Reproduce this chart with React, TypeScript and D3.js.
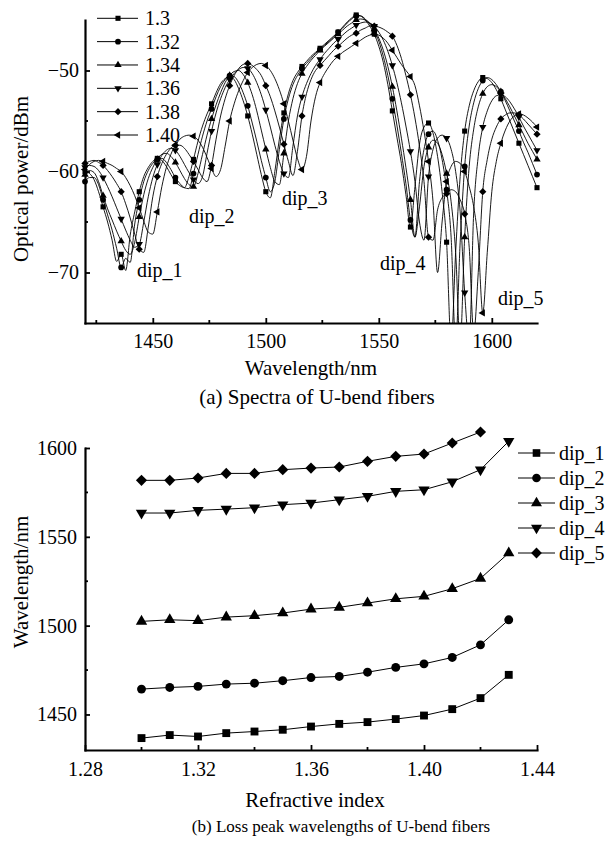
import React, { useEffect, useRef } from 'react';
import * as d3 from 'd3';

const w = 610;
const h = 841;
const serif = '"Liberation Serif", "Times New Roman", Times, serif';

// ---- (a) spectra of U-bend fibers, sampled every 2 nm ----
const wavelengths = d3.range(1420, 1621, 2);
const riLabels = ['1.3', '1.32', '1.34', '1.36', '1.38', '1.40'];

const p130 = [
  -60.0, -60.2, -60.8, -62.0, -63.5, -65.0, -66.8, -68.9, -68.2, -69.8,
  -66.3, -64.0, -62.0, -60.5, -59.6, -59.0, -58.7, -58.9, -59.5, -60.3,
  -61.0, -61.4, -61.6, -60.5, -58.8, -57.0, -55.5, -54.3, -53.3, -52.2,
  -51.3, -50.8, -50.6, -50.9, -51.8, -53.0, -54.5, -56.3, -58.3, -60.3,
  -62.0, -62.6, -60.0, -56.8, -54.2, -52.3, -51.0, -50.2, -49.6, -49.1,
  -48.6, -48.2, -47.8, -47.4, -47.0, -46.6, -46.2, -45.7, -45.2, -44.8,
  -44.5, -44.6, -45.0, -45.6, -46.4, -47.6, -49.2, -51.4, -54.0, -56.6,
  -59.2, -62.3, -65.5, -61.5, -57.3, -55.6, -55.2, -56.2, -58.5, -62.0,
  -67.0, -77.0, -68.0, -60.5, -56.0, -53.5, -52.0, -51.1, -50.7, -50.8,
  -51.2, -51.9, -52.8, -53.9, -55.0, -56.1, -57.2, -58.3, -59.4, -60.5,
  -61.6,
];
const p132 = [
  -61.0, -60.6, -60.6, -61.3, -62.8, -64.3, -65.8, -67.6, -69.5, -68.6,
  -69.0, -65.2, -62.8, -61.0, -59.9, -59.2, -58.8, -58.7, -59.1, -59.8,
  -60.6, -61.2, -61.6, -61.7, -60.2, -58.3, -56.5, -55.0, -53.8, -52.6,
  -51.6, -50.9, -50.5, -50.6, -51.2, -52.2, -53.5, -55.2, -57.0, -58.9,
  -60.6, -62.0, -61.0, -57.8, -54.8, -52.8, -51.4, -50.5, -49.8, -49.3,
  -48.8, -48.3, -47.9, -47.5, -47.1, -46.7, -46.2, -45.8, -45.3, -44.9,
  -44.6, -44.6, -44.9, -45.4, -46.1, -47.1, -48.6, -50.5, -52.8, -55.4,
  -58.2, -61.2, -64.8, -66.5, -61.0, -57.8, -56.3, -56.0, -56.9, -58.8,
  -61.8, -66.5, -77.0, -67.0, -59.5, -55.5, -53.2, -51.8, -51.0, -50.7,
  -50.9, -51.4, -52.1, -53.0, -54.0, -55.0, -56.0, -57.1, -58.1, -59.2,
  -60.3,
];
const p134 = [
  -60.3, -59.9, -60.1, -61.0, -62.4, -63.7, -64.8, -65.9, -66.9, -67.8,
  -68.2, -67.0, -64.5, -62.3, -60.7, -59.6, -58.8, -58.3, -58.2, -58.5,
  -59.1, -59.9, -60.7, -61.3, -61.5, -60.2, -58.3, -56.4, -54.8, -53.4,
  -52.2, -51.2, -50.5, -50.1, -50.0, -50.4, -51.2, -52.4, -54.0, -55.9,
  -57.8, -59.6, -61.0, -61.3, -58.2, -55.0, -52.8, -51.3, -50.3, -49.6,
  -49.0, -48.5, -48.0, -47.6, -47.2, -46.8, -46.4, -46.0, -45.6, -45.3,
  -45.0, -44.9, -45.0, -45.3, -45.9, -46.8, -48.0, -49.6, -51.6, -54.0,
  -56.7, -59.6, -62.8, -66.5, -63.5, -59.5, -57.6, -56.9, -57.2, -58.3,
  -60.2, -63.0, -68.0, -77.0, -66.5, -59.5, -55.8, -53.6, -52.3, -51.6,
  -51.4, -51.6, -52.1, -52.8, -53.6, -54.5, -55.4, -56.3, -57.2, -58.0,
  -58.8,
];
const p136 = [
  -59.6, -59.4, -59.5, -59.9, -60.6, -61.5, -62.5, -63.6, -64.7, -65.8,
  -66.8, -67.5, -67.2, -65.0, -62.5, -60.6, -59.3, -58.4, -57.9, -57.7,
  -57.9, -58.5, -59.3, -60.1, -60.8, -61.2, -60.5, -58.2, -56.0, -54.2,
  -52.8, -51.7, -50.9, -50.3, -49.9, -49.7, -49.8, -50.3, -51.2, -52.4,
  -53.9, -55.6, -57.4, -59.0, -60.2, -60.6, -57.5, -54.5, -52.6, -51.3,
  -50.3, -49.5, -48.9, -48.3, -47.8, -47.3, -46.9, -46.5, -46.1, -45.8,
  -45.5, -45.3, -45.2, -45.3, -45.6, -46.2, -47.0, -48.1, -49.5, -51.2,
  -53.2, -55.5, -58.0, -61.0, -65.0, -66.8, -60.5, -57.8, -56.7, -56.4,
  -56.7, -57.8, -60.0, -64.0, -72.0, -77.0, -64.0, -58.5, -55.6, -54.0,
  -53.0, -52.5, -52.4, -52.6, -53.1, -53.8, -54.6, -55.5, -56.3, -57.1,
  -57.9,
];
const p138 = [
  -59.2, -59.0, -58.9, -59.1, -59.4, -59.9, -60.5, -61.2, -62.0, -63.2,
  -64.6, -66.2, -67.7, -68.0, -65.5, -62.5, -60.5, -59.2, -58.3, -57.7,
  -57.4, -57.4, -57.7, -58.3, -59.0, -59.8, -60.6, -61.0, -59.4, -56.8,
  -54.5, -52.8, -51.5, -50.5, -49.8, -49.4, -49.3, -49.5, -49.9, -50.5,
  -51.5, -52.6, -54.0, -55.6, -57.3, -59.0, -60.4, -58.0, -54.5, -52.3,
  -50.9, -50.0, -49.5, -49.0, -48.5, -48.0, -47.6, -47.2, -46.8, -46.5,
  -46.3, -46.0, -45.8, -45.6, -45.6, -45.7, -45.9, -46.2, -46.6, -47.5,
  -48.8, -50.5, -52.4, -54.7, -57.5, -61.0, -66.5, -66.8, -63.8, -62.6,
  -62.2, -61.8, -62.0, -62.8, -64.2, -67.5, -76.0, -70.0, -62.0, -58.8,
  -56.8, -55.6, -54.8, -54.4, -54.2, -54.2, -54.4, -54.8, -55.3, -55.8,
  -56.3,
];
const p140 = [
  -59.8, -59.3, -59.0, -58.9, -59.0, -59.2, -59.4, -59.7, -60.0, -60.6,
  -61.4, -62.4, -63.6, -64.9, -66.0, -66.2, -64.0, -61.5, -59.6, -58.3,
  -57.4, -56.8, -56.5, -56.4, -56.5, -56.9, -57.6, -58.6, -59.7, -60.5,
  -59.8, -57.5, -55.0, -53.3, -52.0, -51.0, -50.2, -49.7, -49.4, -49.3,
  -49.5, -50.0, -50.8, -51.9, -53.3, -55.0, -56.9, -58.7, -59.8, -58.5,
  -55.0, -52.6, -51.2, -50.3, -49.6, -49.0, -48.6, -48.2, -47.9, -47.6,
  -47.3, -47.0, -46.7, -46.5, -46.4, -46.5, -46.8, -47.3, -48.0, -48.7,
  -49.4, -50.0, -50.6, -51.5, -53.5, -56.0, -59.0, -63.0, -70.0, -65.0,
  -61.0, -59.5, -59.0, -59.2, -60.0, -61.5, -63.5, -67.0, -74.0, -68.0,
  -62.0, -59.0, -57.2, -55.9, -55.0, -54.5, -54.3, -54.4, -54.7, -55.1,
  -55.6,
];
const spectra = [p130, p132, p134, p136, p138, p140];
const spectraShapes = ['square', 'circle', 'up', 'down', 'diamond', 'left'];

const dipNotes = [
  { text: 'dip_1', nm: 1443.0, dbm: -70.4 },
  { text: 'dip_2', nm: 1466.0, dbm: -65.1 },
  { text: 'dip_3', nm: 1507.2, dbm: -63.3 },
  { text: 'dip_4', nm: 1550.5, dbm: -69.8 },
  { text: 'dip_5', nm: 1602.7, dbm: -73.2 },
];

// ---- (b) loss peak wavelengths ----
const refractiveIndex = [1.30, 1.31, 1.32, 1.33, 1.34, 1.35, 1.36, 1.37, 1.38, 1.39, 1.40, 1.41, 1.42, 1.43];
const dip1 = [1436.7, 1438.4, 1437.6, 1439.5, 1440.4, 1441.4, 1443.2, 1444.7, 1445.7, 1447.4, 1449.4, 1453.0, 1459.2, 1472.3];
const dip2 = [1464.3, 1465.2, 1465.8, 1467.1, 1467.6, 1469.0, 1470.8, 1471.4, 1473.8, 1476.5, 1478.5, 1482.1, 1489.2, 1503.3];
const dip3 = [1502.4, 1503.3, 1502.8, 1504.8, 1505.6, 1507.1, 1509.3, 1510.3, 1512.7, 1515.1, 1516.5, 1520.8, 1526.6, 1540.9];
const dip4 = [1563.4, 1563.4, 1564.9, 1565.6, 1566.4, 1568.1, 1569.0, 1570.9, 1572.8, 1575.6, 1576.5, 1581.0, 1587.8, 1603.8];
const dip5 = [1581.8, 1581.8, 1583.1, 1585.7, 1585.7, 1587.8, 1588.7, 1589.3, 1592.5, 1595.3, 1596.6, 1602.8, 1609.0];
const dips = [dip1, dip2, dip3, dip4, dip5];
const dipLabels = ['dip_1', 'dip_2', 'dip_3', 'dip_4', 'dip_5'];
const dipShapes = ['square', 'circle', 'up', 'down', 'diamond'];

const shapes: Record<string, { type: d3.SymbolType; rot: number }> = {
  square: { type: d3.symbolSquare, rot: 0 },
  circle: { type: d3.symbolCircle, rot: 0 },
  up: { type: d3.symbolTriangle, rot: 0 },
  down: { type: d3.symbolTriangle, rot: 180 },
  diamond: { type: d3.symbolSquare, rot: 45 },
  left: { type: d3.symbolTriangle, rot: -90 },
};

function addMarker(g: any, shape: string, size: number, x: number, y: number) {
  const s = shapes[shape];
  const area = shape === 'up' || shape === 'down' || shape === 'left' ? size * 0.9 : size;
  g.append('path')
    .attr('d', d3.symbol().type(s.type).size(area)())
    .attr('transform', `translate(${x},${y}) rotate(${s.rot})`)
    .attr('fill', '#000');
}

function styleAxis(g: any, fontSize: number) {
  g.select('.domain').attr('stroke', '#000').attr('stroke-width', 2.2).attr('stroke-linecap', 'square');
  g.selectAll('.tick line').attr('stroke', '#000').attr('stroke-width', 1.8);
  g.selectAll('.tick text').attr('fill', '#000').attr('font-size', fontSize).attr('font-family', serif);
}

export default function App() {
  const ref = useRef<SVGSVGElement>(null);

  useEffect(() => {
    const svg = d3.select(ref.current);
    svg.selectAll('*').remove();

    // ===== (a) =====
    const x1 = d3.scaleLinear().domain([1420, 1620]).range([85, 537]);
    const y1 = d3.scaleLinear().domain([-75, -45]).range([323, 20]);

    svg.append('clipPath').attr('id', 'clipA')
      .append('rect').attr('x', 0).attr('y', 0).attr('width', w).attr('height', 323);

    const plotA = svg.append('g').attr('clip-path', 'url(#clipA)');
    const line1 = d3.line<[number, number]>()
      .x(d => x1(d[0]))
      .y(d => y1(d[1]))
      .curve(d3.curveMonotoneX);

    spectra.forEach((vals, i) => {
      const pts: [number, number][] = wavelengths.map((wl, j) => [wl, vals[j]]);
      plotA.append('path').datum(pts)
        .attr('d', line1)
        .attr('fill', 'none')
        .attr('stroke', '#000')
        .attr('stroke-width', 0.9);
      pts.forEach((p, j) => {
        if (j % 4 === 0) addMarker(plotA, spectraShapes[i], 26, x1(p[0]), y1(p[1]));
      });
    });

    const ax1 = svg.append('g').attr('transform', 'translate(0,323)')
      .call(d3.axisBottom(x1).tickValues([1450, 1500, 1550, 1600])
        .tickSizeInner(-5).tickSizeOuter(0).tickPadding(11).tickFormat(d3.format('d')));
    styleAxis(ax1, 20);
    [1425, 1475, 1525, 1575].forEach(v => {
      svg.append('line').attr('x1', x1(v)).attr('x2', x1(v)).attr('y1', 323).attr('y2', 320)
        .attr('stroke', '#000').attr('stroke-width', 1.8);
    });

    const ay1 = svg.append('g').attr('transform', 'translate(85,0)')
      .call(d3.axisLeft(y1).tickValues([-70, -60, -50])
        .tickSizeInner(-5).tickSizeOuter(0).tickPadding(6));
    styleAxis(ay1, 20);
    [-65, -55].forEach(v => {
      svg.append('line').attr('x1', 85).attr('x2', 88).attr('y1', y1(v)).attr('y2', y1(v))
        .attr('stroke', '#000').attr('stroke-width', 1.8);
    });

    svg.append('text').text('Wavelength/nm')
      .attr('x', 311).attr('y', 375).attr('text-anchor', 'middle')
      .attr('font-size', 21).attr('font-family', serif);
    svg.append('text').text('Optical power/dBm')
      .attr('transform', 'translate(28,179) rotate(-90)').attr('text-anchor', 'middle')
      .attr('font-size', 21).attr('font-family', serif);
    svg.append('text').text('(a) Spectra of U-bend fibers')
      .attr('x', 317).attr('y', 404).attr('text-anchor', 'middle')
      .attr('font-size', 21).attr('font-family', serif);

    dipNotes.forEach(n => {
      svg.append('text').text(n.text)
        .attr('x', x1(n.nm)).attr('y', y1(n.dbm))
        .attr('font-size', 20).attr('font-family', serif);
    });

    // legend (a)
    riLabels.forEach((lab, i) => {
      const ly = 18.3 + i * 23.34;
      svg.append('line').attr('x1', 97).attr('x2', 138).attr('y1', ly).attr('y2', ly)
        .attr('stroke', '#000').attr('stroke-width', 1);
      addMarker(svg, spectraShapes[i], 26, 118, ly);
      svg.append('text').text(lab).attr('x', 145).attr('y', ly).attr('dy', '0.35em')
        .attr('font-size', 20).attr('font-family', serif);
    });

    // ===== (b) =====
    const x2 = d3.scaleLinear().domain([1.28, 1.44]).range([85, 537]);
    const y2 = d3.scaleLinear().domain([1430, 1600]).range([750, 448]);
    const line2 = d3.line<[number, number]>().x(d => x2(d[0])).y(d => y2(d[1]));

    dips.forEach((vals, i) => {
      const pts: [number, number][] = vals.map((v, j) => [refractiveIndex[j], v]);
      svg.append('path').datum(pts)
        .attr('d', line2)
        .attr('fill', 'none')
        .attr('stroke', '#000')
        .attr('stroke-width', 1);
      pts.forEach(p => addMarker(svg, dipShapes[i], 62, x2(p[0]), y2(p[1])));
    });

    const ax2 = svg.append('g').attr('transform', 'translate(0,750)')
      .call(d3.axisBottom(x2).tickValues([1.28, 1.32, 1.36, 1.40, 1.44])
        .tickSizeInner(-5).tickSizeOuter(0).tickPadding(12).tickFormat(d3.format('.2f')));
    styleAxis(ax2, 20);
    [1.30, 1.34, 1.38, 1.42].forEach(v => {
      svg.append('line').attr('x1', x2(v)).attr('x2', x2(v)).attr('y1', 750).attr('y2', 747)
        .attr('stroke', '#000').attr('stroke-width', 1.8);
    });

    const ay2 = svg.append('g').attr('transform', 'translate(85,0)')
      .call(d3.axisLeft(y2).tickValues([1450, 1500, 1550, 1600])
        .tickSizeInner(-5).tickSizeOuter(0).tickPadding(8).tickFormat(d3.format('d')));
    styleAxis(ay2, 20);
    [1475, 1525, 1575].forEach(v => {
      svg.append('line').attr('x1', 85).attr('x2', 88).attr('y1', y2(v)).attr('y2', y2(v))
        .attr('stroke', '#000').attr('stroke-width', 1.8);
    });

    svg.append('text').text('Refractive index')
      .attr('x', 315).attr('y', 807).attr('text-anchor', 'middle')
      .attr('font-size', 21).attr('font-family', serif);
    svg.append('text').text('Wavelength/nm')
      .attr('transform', 'translate(28,582) rotate(-90)').attr('text-anchor', 'middle')
      .attr('font-size', 21).attr('font-family', serif);
    svg.append('text').text('(b) Loss peak wavelengths of U-bend fibers')
      .attr('x', 341).attr('y', 832).attr('text-anchor', 'middle')
      .attr('font-size', 17).attr('font-family', serif);

    // legend (b)
    dipLabels.forEach((lab, i) => {
      const ly = 453 + i * 25;
      svg.append('line').attr('x1', 518).attr('x2', 555).attr('y1', ly).attr('y2', ly)
        .attr('stroke', '#000').attr('stroke-width', 1);
      addMarker(svg, dipShapes[i], 58, 536.5, ly);
      svg.append('text').text(lab).attr('x', 559).attr('y', ly).attr('dy', '0.35em')
        .attr('font-size', 20).attr('font-family', serif);
    });
  }, []);

  return (
    <svg
      ref={ref}
      width={w}
      height={h}
      style={{ position: 'absolute', left: 0, top: 0, background: '#fff' }}
    />
  );
}
